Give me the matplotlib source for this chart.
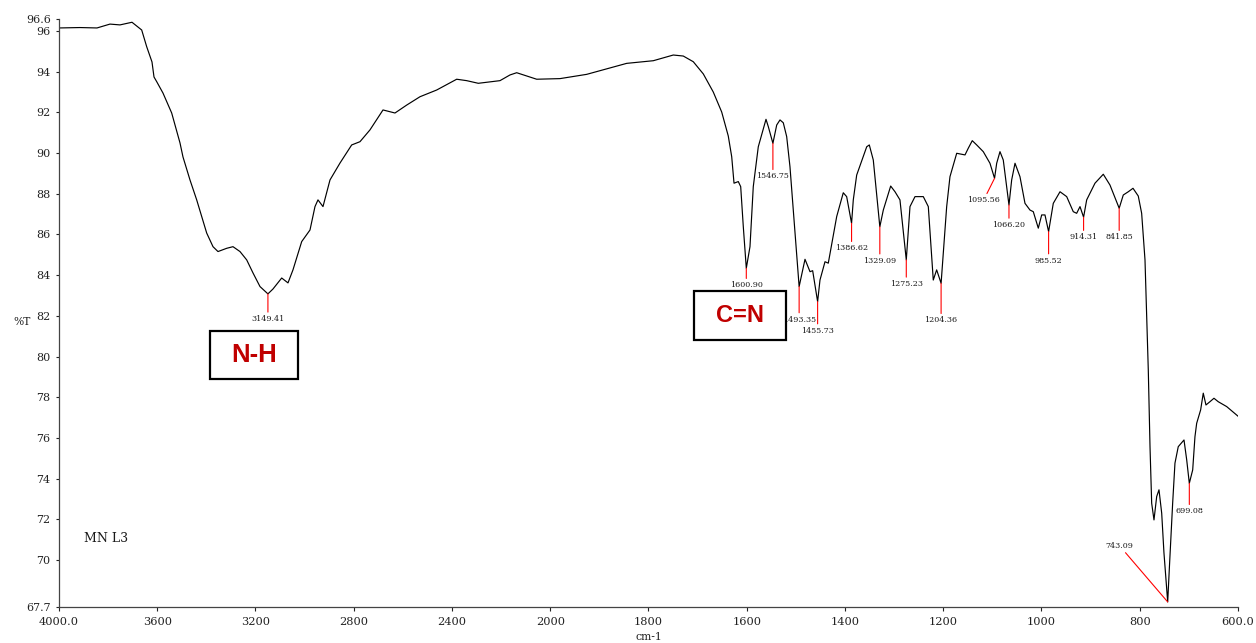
import numpy as np
import matplotlib
matplotlib.use("Agg")
import matplotlib.pyplot as plt
from matplotlib.patches import Rectangle

# FTIR spectrum of sample MN L3 (wavenumber in cm-1, transmittance in %T)
wavenumber = [
    4000, 3914.5, 3845.3, 3792.4, 3751.7, 3702.8, 3663.3, 3643.0, 3621.4, 3613.2,
    3602.2, 3576.6, 3541.2, 3507.4, 3495.2, 3466.7, 3439.4, 3419.0, 3398.7, 3373.0,
    3352.7, 3317.3, 3291.6, 3263.1, 3235.8, 3210.2, 3181.7, 3149.41, 3128.8, 3093.3,
    3067.7, 3047.4, 3011.9, 2978.1, 2957.8, 2945.6, 2925.2, 2896.7, 2856.0, 2808.4,
    2774.6, 2733.9, 2680.9, 2632.1, 2584.4, 2530.3, 2462.3, 2380.9, 2340.2, 2292.9,
    2204.6, 2163.9, 2136.6, 2055.2, 1980.2, 1925.8, 1844.4, 1790.2, 1749.5, 1729.2,
    1708.8, 1688.4, 1668.1, 1651.0, 1637.6, 1630.6, 1625.9, 1617.2, 1612.3, 1607.0,
    1600.90, 1593.4, 1586.7, 1576.5, 1560.8, 1556.1, 1546.75, 1539.0, 1532.3, 1525.6,
    1518.7, 1512.0, 1501.8, 1493.35, 1481.4, 1471.2, 1465.8, 1455.73, 1450.9, 1440.7,
    1434.0, 1416.9, 1403.5, 1396.6, 1386.62, 1383.1, 1376.2, 1355.8, 1350.5, 1342.4,
    1329.09, 1322.0, 1307.0, 1298.2, 1288.1, 1275.23, 1267.7, 1257.5, 1240.6, 1230.4,
    1220.3, 1213.4, 1204.36, 1193.0, 1186.3, 1172.6, 1155.7, 1149.0, 1140.9, 1131.9,
    1118.5, 1104.9, 1095.56, 1091.2, 1084.5, 1077.8, 1066.20, 1060.7, 1053.9, 1043.8,
    1033.6, 1023.4, 1016.7, 1006.5, 999.6, 992.9, 985.52, 976.0, 962.3, 948.7,
    935.3, 928.4, 921.6, 914.31, 908.0, 891.1, 874.2, 860.6, 841.85, 833.5,
    823.3, 813.7, 803.0, 796.1, 789.3, 782.6, 779.1, 775.7, 771.0, 765.5,
    760.8, 755.3, 750.7, 743.09, 739.9, 733.0, 728.3, 721.6, 709.9, 704.4,
    699.08, 692.2, 687.6, 684.1, 676.0, 670.7, 665.2, 657.1, 648.9, 640.2,
    623.0, 602.7, 600.0,
]
transmittance = [
    96.15, 96.17, 96.15, 96.34, 96.30, 96.43, 96.05, 95.23, 94.48, 93.74,
    93.51, 92.95, 91.97, 90.50, 89.81, 88.68, 87.70, 86.88, 86.07, 85.40,
    85.16, 85.32, 85.40, 85.16, 84.75, 84.11, 83.44, 83.08, 83.32, 83.86,
    83.62, 84.26, 85.65, 86.22, 87.37, 87.70, 87.37, 88.68, 89.51, 90.40,
    90.56, 91.14, 92.12, 91.97, 92.36, 92.77, 93.10, 93.63, 93.56, 93.43,
    93.56, 93.84, 93.95, 93.63, 93.66, 93.87, 94.41, 94.54, 94.82, 94.77,
    94.49, 93.89, 93.00, 92.02, 90.84, 89.82, 88.52, 88.60, 88.35, 86.38,
    84.34, 85.40, 88.35, 90.31, 91.66, 91.30, 90.48, 91.38, 91.63, 91.49,
    90.81, 89.33, 86.07, 83.44, 84.78, 84.17, 84.22, 82.70, 83.76, 84.66,
    84.59, 86.88, 88.05, 87.86, 86.55, 87.70, 88.92, 90.31, 90.40, 89.66,
    86.38, 87.20, 88.38, 88.10, 87.70, 84.75, 87.37, 87.86, 87.86, 87.37,
    83.76, 84.26, 83.60, 87.37, 88.84, 89.99, 89.91, 90.24, 90.61, 90.40,
    90.07, 89.50, 88.76, 89.50, 90.07, 89.66, 87.45, 88.68, 89.50, 88.84,
    87.53, 87.20, 87.12, 86.31, 86.96, 86.96, 86.14, 87.53, 88.10, 87.86,
    87.12, 87.04, 87.37, 86.85, 87.70, 88.52, 88.96, 88.43, 87.29, 87.94,
    88.10, 88.27, 87.89, 87.04, 84.75, 79.34, 75.57, 72.79, 71.97, 73.12,
    73.45, 72.30, 70.35, 67.94, 69.51, 72.79, 74.76, 75.57, 75.90, 74.92,
    73.77, 74.43, 76.06, 76.72, 77.38, 78.20, 77.62, 77.78, 77.95, 77.78,
    77.54, 77.13, 77.07,
]

# Picked peaks
peak_wavenumber = [3149.41, 1600.90, 1546.75, 1493.35, 1455.73, 1386.62, 1329.09, 1275.23,
                   1204.36, 1095.56, 1066.20, 985.52, 914.31, 841.85, 743.09, 699.08]
peak_transmittance = [83.08, 84.34, 90.48, 83.44, 82.70, 86.55, 86.38, 84.75,
                      83.60, 88.76, 87.45, 86.14, 86.85, 87.29, 67.94, 73.77]

x_ticks = [4000, 3600, 3200, 2800, 2400, 2000, 1800, 1600, 1400, 1200, 1000, 800, 600]
x_tick_labels = ["4000.0", "3600", "3200", "2800", "2400", "2000", "1800", "1600",
                 "1400", "1200", "1000", "800", "600.0"]
y_ticks = [67.7, 70, 72, 74, 76, 78, 80, 82, 84, 86, 88, 90, 92, 94, 96, 96.6]
y_tick_labels = ["67.7", "70", "72", "74", "76", "78", "80", "82", "84", "86", "88",
                 "90", "92", "94", "96", "96.6"]

sample_name = "MN L3"
band_labels = ["N-H", "C=N"]

# label placement for each peak: text centre offset from the peak, in pixels
label_offsets = [(0, -25), (0, -17), (0, -33), (0, -33), (0, -29), (0, -25), (0, -34),
                 (0, -24), (0, -37), (-11, -22), (0, -20), (0, -29), (0, -20), (0, -29),
                 (-48, 56), (0, -28)]


# Wavenumber axis: 400 cm-1 per division above 2000, 200 cm-1 per division below
# (increasing transform; the axis is then inverted through the limits)
def forward(x):
    x = np.asarray(x, dtype=float)
    return np.where(x >= 2000, (x - 4000) / 400.0, -5 - (2000 - x) / 200.0)


def inverse(u):
    u = np.asarray(u, dtype=float)
    return np.where(u >= -5, 4000 + 400.0 * u, 2000 + 200.0 * (u + 5))


plt.rcParams["font.family"] = "DejaVu Serif"

fig = plt.figure(figsize=(12.56, 6.43), dpi=100)
ax = fig.add_axes([0.04697, 0.05630, 0.93869, 0.91446])

ax.set_xscale("function", functions=(forward, inverse))
ax.plot(wavenumber, transmittance, color="black", lw=0.85, zorder=2)
ax.set_xlim(4000, 600)
ax.set_ylim(67.7, 96.6)

ax.set_xticks(x_ticks)
ax.set_xticklabels(x_tick_labels)
ax.set_yticks(y_ticks)
ax.set_yticklabels(y_tick_labels)
ax.minorticks_off()
ax.tick_params(axis="x", direction="out", length=3, width=0.8, pad=4,
               labelsize=8.2, colors="#222222")
ax.tick_params(axis="y", direction="out", length=2.5, width=0.8, pad=3.5,
               labelsize=8.0, colors="#222222")

for side in ("top", "right"):
    ax.spines[side].set_visible(False)
for side in ("left", "bottom"):
    ax.spines[side].set_color("#444444")
    ax.spines[side].set_linewidth(0.9)

ax.set_xlabel("cm-1", fontsize=7.8, color="#222222")
ax.xaxis.set_label_coords(0.5, -0.0514)
ax.xaxis.label.set_va("center")
ax.set_ylabel("%T", fontsize=7.7, color="#222222", rotation=0)
ax.yaxis.set_label_coords(-0.0314, 0.4844)
ax.yaxis.label.set_va("center")
ax.yaxis.label.set_ha("center")

# peak labels with red leader lines
for wn, t, (dx, dy) in zip(peak_wavenumber, peak_transmittance, label_offsets):
    ax.annotate(f"{wn:.2f}", xy=(wn, t), xytext=(dx, dy), textcoords="offset pixels",
                ha="center", va="center", fontsize=5.8, color="#1a1a1a", zorder=3,
                arrowprops=dict(arrowstyle="-", color="red", lw=0.8,
                                shrinkA=0, shrinkB=0))

ax.text(0.0212, 0.117, sample_name, transform=ax.transAxes, fontsize=9,
        ha="left", va="center", color="#1a1a1a")

# boxed band assignments
boxes = [(0.1281, 0.3874, 0.0746, 0.0816, 18.5), (0.5386, 0.4537, 0.0780, 0.0833, 17)]
for label, (bx, by, bw, bh, fs) in zip(band_labels, boxes):
    ax.add_patch(Rectangle((bx, by), bw, bh, transform=ax.transAxes, facecolor="white",
                           edgecolor="black", lw=1.6, zorder=5, clip_on=False))
    ax.text(bx + bw / 2, by + bh / 2, label, transform=ax.transAxes, ha="center",
            va="center", fontsize=fs, fontweight="bold", color="#C00000",
            family="Liberation Sans", zorder=6)

fig.savefig("out.png", dpi=100)
